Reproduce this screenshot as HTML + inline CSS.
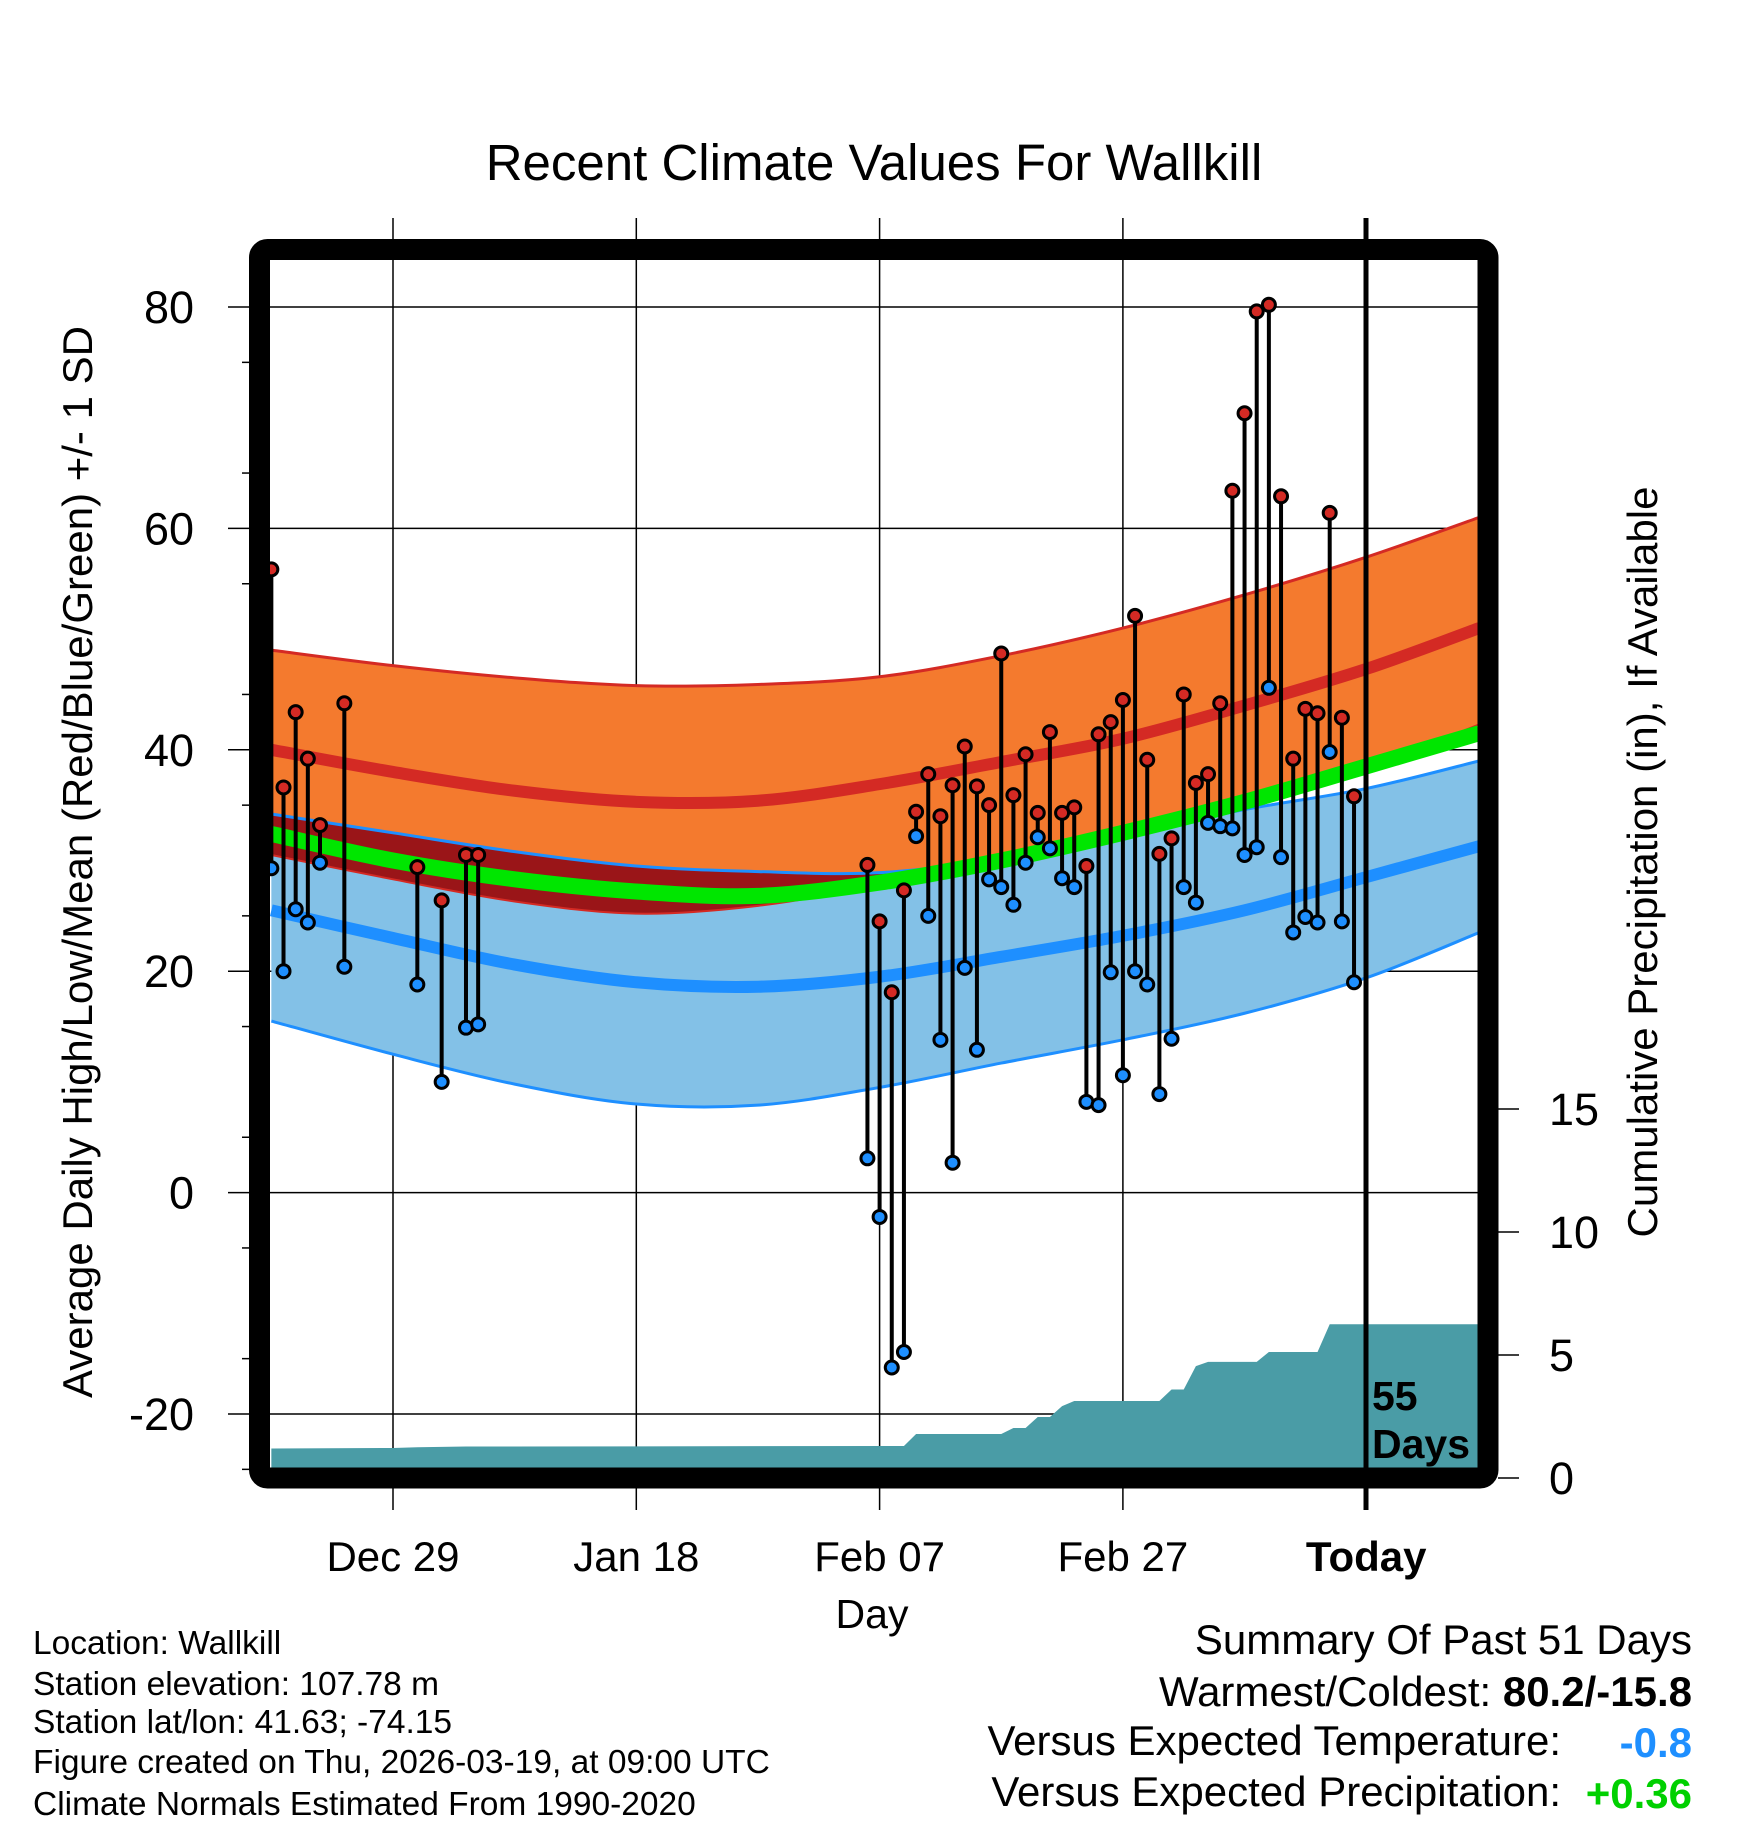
<!DOCTYPE html>
<html><head><meta charset="utf-8"><style>
html,body{margin:0;padding:0;background:#fff;}
svg{display:block;font-family:"Liberation Sans",sans-serif;}
</style></head><body>
<svg id="chart" width="1748" height="1828" viewBox="0 0 1748 1828" xmlns="http://www.w3.org/2000/svg">
<defs><clipPath id="plotclip"><rect x="270" y="260" width="1208" height="1208"/></clipPath></defs>
<text x="874" y="180" font-size="51" text-anchor="middle">Recent Climate Values For Wallkill</text>
<g id="grid"></g>
<g id="bands" clip-path="url(#plotclip)"></g>
<g id="precip" clip-path="url(#plotclip)"></g>
<g id="marks" clip-path="url(#plotclip)"></g>
<line x1="1366" y1="218" x2="1366" y2="1510" stroke="#000" stroke-width="5"/>
<rect x="259.5" y="249.5" width="1228.5" height="1228.5" rx="8" fill="none" stroke="#000" stroke-width="21"/>
<text x="1372" y="1410" font-size="41" font-weight="bold">55</text>
<text x="1372" y="1458" font-size="41" font-weight="bold">Days</text>
<g id="axes"></g>
<text transform="translate(92,862) rotate(-90)" font-size="42" text-anchor="middle">Average Daily High/Low/Mean (Red/Blue/Green) +/- 1 SD</text>
<text transform="translate(1657,862) rotate(-90)" font-size="42" text-anchor="middle">Cumulative Precipitation (in), If Available</text>
<text x="872" y="1628" font-size="41" text-anchor="middle">Day</text>
<g font-size="33.5">
<text x="33" y="1654">Location: Wallkill</text>
<text x="33" y="1695">Station elevation: 107.78 m</text>
<text x="33" y="1733">Station lat/lon: 41.63; -74.15</text>
<text x="33" y="1773">Figure created on Thu, 2026-03-19, at 09:00 UTC</text>
<text x="33" y="1815">Climate Normals Estimated From 1990-2020</text>
</g>
<g font-size="42">
<text x="1692" y="1654" text-anchor="end">Summary Of Past 51 Days</text>
<text x="1692" y="1706" text-anchor="end">Warmest/Coldest: <tspan font-weight="bold">80.2/-15.8</tspan></text>
<text x="1561" y="1755" text-anchor="end">Versus Expected Temperature:</text>
<text x="1692" y="1757" text-anchor="end" font-weight="bold" fill="#1e8fff">-0.8</text>
<text x="1561" y="1806" text-anchor="end">Versus Expected Precipitation:</text>
<text x="1692" y="1808" text-anchor="end" font-weight="bold" fill="#00d000">+0.36</text>
</g>
</svg>
<script>
// day index: 0 = Dec 29, Today (Mar 19) = 80
const obsDays = [-10,-9,-8,-7,-6,-4,2,4,6,7,39,40,41,42,43,44,45,46,47,48,49,50,51,52,53,54,55,56,57,58,59,60,61,62,63,64,65,66,67,68,69,70,71,72,73,74,75,76,77,78,79];
const highs = [56.3,36.6,43.4,39.2,33.2,44.2,29.4,26.4,30.5,30.5,29.6,24.5,18.1,27.3,34.4,37.8,34.0,36.8,40.3,36.7,35.0,48.7,35.9,39.6,34.3,41.6,34.3,34.8,29.5,41.4,42.5,44.5,52.1,39.1,30.6,32.0,45.0,37.0,37.8,44.2,63.4,70.4,79.6,80.2,62.9,39.2,43.7,43.3,61.4,42.9,35.8];
const lows = [29.3,20.0,25.6,24.4,29.8,20.4,18.8,10.0,14.9,15.2,3.1,-2.2,-15.8,-14.4,32.2,25.0,13.8,2.7,20.3,12.9,28.3,27.6,26.0,29.8,32.1,31.1,28.4,27.6,8.2,7.9,19.9,10.6,20.0,18.8,8.9,13.9,27.6,26.2,33.4,33.1,32.9,30.5,31.2,45.6,30.3,23.5,24.9,24.4,39.8,24.5,19.0];
const normDays = [-10,0,10,20,30,40,50,60,70,80,89.3];
const highPlus = [49.0,47.6,46.5,45.8,45.9,46.6,48.5,51.0,54.0,57.4,61.0];
const highMean = [40.0,38.0,36.3,35.3,35.4,36.9,38.9,41.0,44.0,47.3,51.0];
const highMinus = [30.5,28.3,26.3,25.2,25.9,27.8,30.4,32.8,35.3,38.3,42.3];
const lowPlus = [34.2,32.5,30.8,29.5,29.0,28.9,30.2,32.3,34.6,36.5,39.0];
const lowMean = [25.5,23.0,20.6,19.0,18.6,19.5,21.3,23.2,25.5,28.5,31.3];
const lowMinus = [15.5,12.5,9.8,8.0,7.9,9.5,11.7,13.8,16.2,19.4,23.5];
const meanVals = [32.4,30.0,28.3,27.2,26.8,28.0,30.0,32.5,35.3,38.5,41.5];
const precipDays = [-10,0,2,6,42,43,50,51,52,53,54,55,56,63,64,65,66,67,71,72,76,77,89.3];
const precipVals = [1.2,1.22,1.25,1.28,1.3,1.79,1.79,2.03,2.03,2.48,2.48,2.92,3.13,3.13,3.6,3.6,4.55,4.72,4.72,5.12,5.12,6.25,6.25];
const xTickDays = [0,20,40,60,80];
const xTickLabels = ["Dec 29","Jan 18","Feb 07","Feb 27","Today"];
const yTicks = [-20,0,20,40,60,80];
const y2Ticks = [0,5,10,15];

const NS="http://www.w3.org/2000/svg";
const xD=d=>393+d*12.165;
const yT=t=>1192.6-t*11.07;
const yP=p=>1478-p*24.6;
function mk(tag,attrs,parent){const e=document.createElementNS(NS,tag);for(const k in attrs)e.setAttribute(k,attrs[k]);parent.appendChild(e);return e;}
function smooth(pts){let s="M"+pts[0][0]+","+pts[0][1];for(let i=0;i<pts.length-1;i++){const p0=pts[i-1]||pts[i],p1=pts[i],p2=pts[i+1],p3=pts[i+2]||p2;const c1=[p1[0]+(p2[0]-p0[0])/6,p1[1]+(p2[1]-p0[1])/6],c2=[p2[0]-(p3[0]-p1[0])/6,p2[1]-(p3[1]-p1[1])/6];s+=" C"+c1+" "+c2+" "+p2;}return s;}
function curve(vals){return normDays.map((d,i)=>[xD(d),yT(vals[i])]);}
function bandPath(up,lo){const a=curve(up),b=curve(lo).reverse();let s=smooth(a);s+=" L"+b[0]+smooth(b).slice(1).replace(/^[^C]*/," ");return s+" Z";}

const grid=document.getElementById('grid');
yTicks.forEach(t=>{const l=mk('line',{x1:228,x2:1478,y1:yT(t),y2:yT(t),stroke:'#000','stroke-width':1.5},grid);
});
xTickDays.forEach(d=>{const l=mk('line',{x1:xD(d),x2:xD(d),y1:218,y2:1510,stroke:'#000','stroke-width':1.5},grid);
});

const bands=document.getElementById('bands');
const ob=mk('path',{d:bandPath(highPlus,highMinus),fill:'#f47a2e'},bands);

const bb=mk('path',{d:bandPath(lowPlus,lowMinus),fill:'#83c1e7'},bands);

const ovLo=highMinus.map((v,i)=>Math.min(v,lowPlus[i]));
const dr=mk('path',{d:bandPath(lowPlus,ovLo),fill:'#9a1518'},bands);

[[highPlus,'#d42a24',3,'high-plus-sd-line'],[lowPlus,'#1e8fff',3,'low-plus-sd-line'],[lowMinus,'#1e8fff',3,'low-minus-sd-line'],[highMinus,'#d42a24',2,'high-minus-sd-line'],
 [highMean,'#d42a24',12,'normal-high-line'],[lowMean,'#1e8fff',12,'normal-low-line'],[meanVals,'#00e600',16,'normal-mean-line']].forEach(([v,c,w,n])=>{
 const p=mk('path',{d:smooth(curve(v)),fill:'none',stroke:c,'stroke-width':w},bands);
 });

const pg=document.getElementById('precip');
let pd="M"+xD(precipDays[0])+","+yP(0);
precipDays.forEach((d,i)=>{pd+=" L"+xD(d)+","+yP(precipVals[i]);});
pd+=" L"+xD(precipDays[precipDays.length-1])+","+yP(0)+" Z";
const pa=mk('path',{d:pd,fill:'#4a9ca6'},pg);


const mg=document.getElementById('marks');
obsDays.forEach((d,i)=>{const x=xD(d);
 const s=mk('line',{x1:x,x2:x,y1:yT(highs[i]),y2:yT(lows[i]),stroke:'#000','stroke-width':4},mg);
 });
obsDays.forEach((d,i)=>{const x=xD(d);
 const h=mk('circle',{cx:x,cy:yT(highs[i]),r:6.5,fill:'#d42a24',stroke:'#000','stroke-width':3},mg);
 
 const l=mk('circle',{cx:x,cy:yT(lows[i]),r:6.5,fill:'#1e8fff',stroke:'#000','stroke-width':3},mg);
 });

const ax=document.getElementById('axes');
yTicks.forEach(t=>{const e=mk('text',{x:194,y:yT(t)+16,'font-size':45,'text-anchor':'end'},ax);e.textContent=String(t);
 });
for(let t=-25;t<=75;t+=10){const m=mk('line',{x1:242,x2:249,y1:yT(t),y2:yT(t),stroke:'#000','stroke-width':1.5},ax);
 }
xTickDays.forEach((d,i)=>{const e=mk('text',{x:xD(d),y:1571,'font-size':42,'text-anchor':'middle','font-weight':d===80?'bold':'normal'},ax);e.textContent=xTickLabels[i];
 });
y2Ticks.forEach(p=>{const m=mk('line',{x1:1498,x2:1519,y1:yP(p),y2:yP(p),stroke:'#000','stroke-width':1.5},ax);
 
 const e=mk('text',{x:1549,y:yP(p)+16,'font-size':45},ax);e.textContent=String(p);
 });
</script>
</body></html>
